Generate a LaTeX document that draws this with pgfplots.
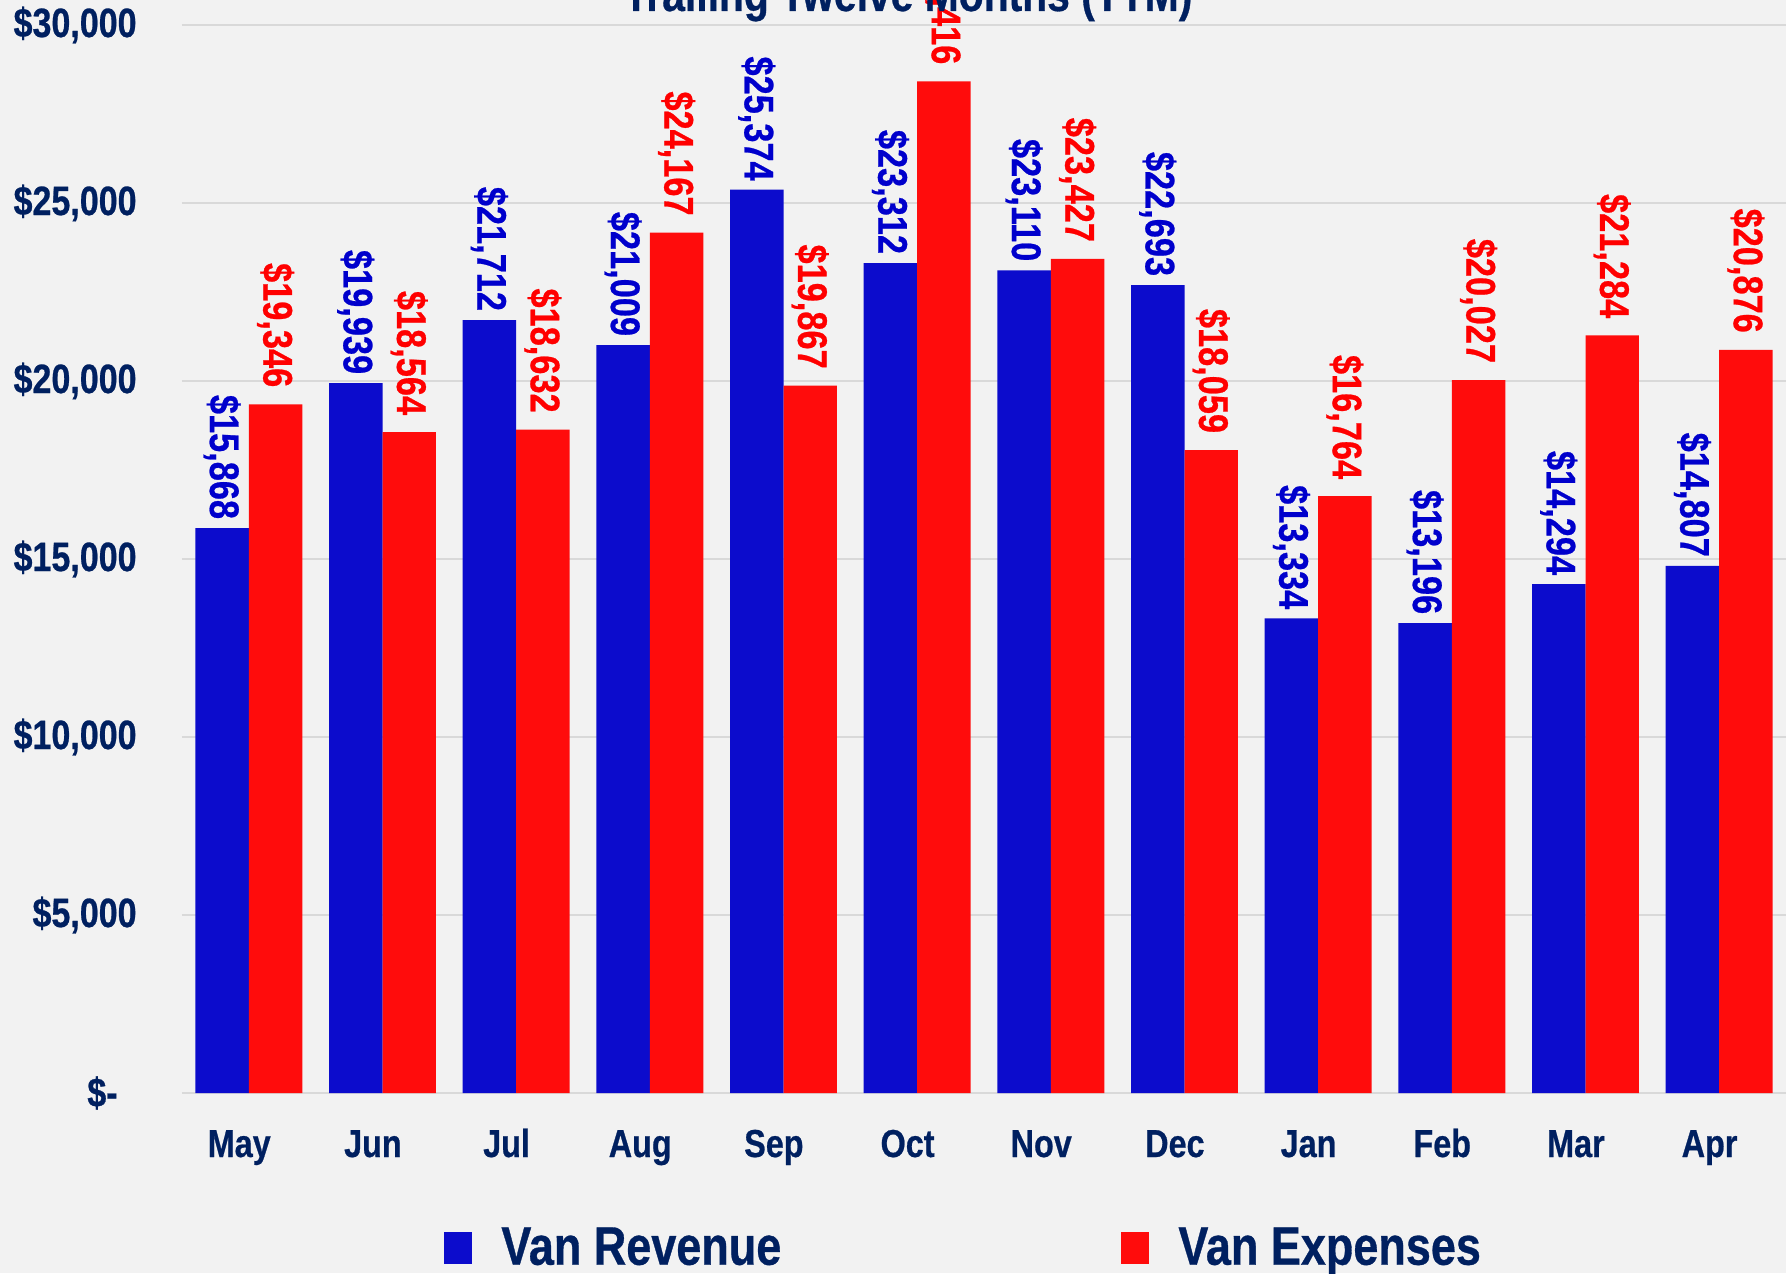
\documentclass[border=0pt]{standalone}
\usepackage{fontspec}
\setmainfont{Liberation Sans}[FakeStretch=0.83, FakeBold=0.6]
\usepackage{pgfplots}
\pgfplotsset{compat=1.18}
\definecolor{bgc}{HTML}{F2F2F2}
\definecolor{navy}{HTML}{002060}
\definecolor{gridc}{HTML}{D9D9D9}
\definecolor{barblue}{HTML}{0C0CCC}
\definecolor{barred}{HTML}{FF0C0C}
\definecolor{lblblue}{HTML}{0000CC}
\definecolor{lblred}{HTML}{FF0000}
\begin{document}
\begin{tikzpicture}
\fill[bgc] (-91pt,-90pt) rectangle (802pt,546.5pt);
\begin{axis}[
  scale only axis,
  width=802pt, height=534pt,
  at={(0,0)}, anchor=south west,
  ybar=0pt, bar width=0.4,
  xmin=-0.5, xmax=11.5,
  ymin=0, ymax=30000,
  clip=false,
  axis line style={draw=none},
  major tick length=0pt,
  xtick={0,...,11},
  xticklabels={May,Jun,Jul,Aug,Sep,Oct,Nov,Dec,Jan,Feb,Mar,Apr},
  xticklabel style={font=\bfseries\fontsize{19.5}{22}\selectfont, text=navy, inner sep=0pt, anchor=base, yshift=-32pt, xshift=-4.8pt},
  ytick={0,5000,10000,15000,20000,25000,30000},
  yticklabels={{\$-\kern9.5pt\relax},{\$5,000},{\$10,000},{\$15,000},{\$20,000},{\$25,000},{\$30,000}},
  yticklabel style={font=\bfseries\fontsize{20.5}{24}\selectfont, text=navy, inner sep=0pt, anchor=east, xshift=-22.5pt},
  ymajorgrids,
  major grid style={draw=gridc, line width=1pt},
  /pgf/number format/assume math mode=true,
  title={Trailing Twelve Months (TTM)},
  title style={at={(axis description cs:0.4526,1)}, anchor=base, yshift=1pt, inner sep=0pt, font=\bfseries\fontsize{24.6}{28}\selectfont, text=navy},
  nodes near coords={\$\pgfmathprintnumber[fixed,precision=0,1000 sep={,}]{\pgfplotspointmeta}},
  every node near coord/.append style={rotate=-90, anchor=east, inner sep=0pt, font=\bfseries\fontsize{20.7}{24}\selectfont},
  legend columns=2,
  legend image code/.code={\fill[#1] (0pt,-8pt) rectangle (14pt,8pt);},
  legend style={at={(axis description cs:0.1633,-0.1255)}, anchor=north west, draw=none, fill=none, inner sep=0pt,
    font=\bfseries\fontsize{27.1}{30}\selectfont, text=navy,
    nodes={inner sep=0pt},
    /tikz/every odd column/.append style={column sep=14.5pt},
    /tikz/every even column/.append style={column sep=170pt}},
]
\addplot+[fill=barblue, draw=none, every node near coord/.append style={text=lblblue, outer xsep=4.5pt}] coordinates {
(0,15868) (1,19939) (2,21712) (3,21009) (4,25374) (5,23312)
(6,23110) (7,22693) (8,13334) (9,13196) (10,14294) (11,14807)};
\addplot+[fill=barred, draw=none, every node near coord/.append style={text=lblred, outer xsep=8.5pt}] coordinates {
(0,19346) (1,18564) (2,18632) (3,24167) (4,19867) (5,28416)
(6,23427) (7,18059) (8,16764) (9,20027) (10,21284) (11,20876)};
\legend{Van Revenue, Van Expenses}
\end{axis}
\pgfresetboundingbox
\useasboundingbox (-91pt,-90pt) rectangle (802pt,546.5pt);
\end{tikzpicture}
\end{document}
